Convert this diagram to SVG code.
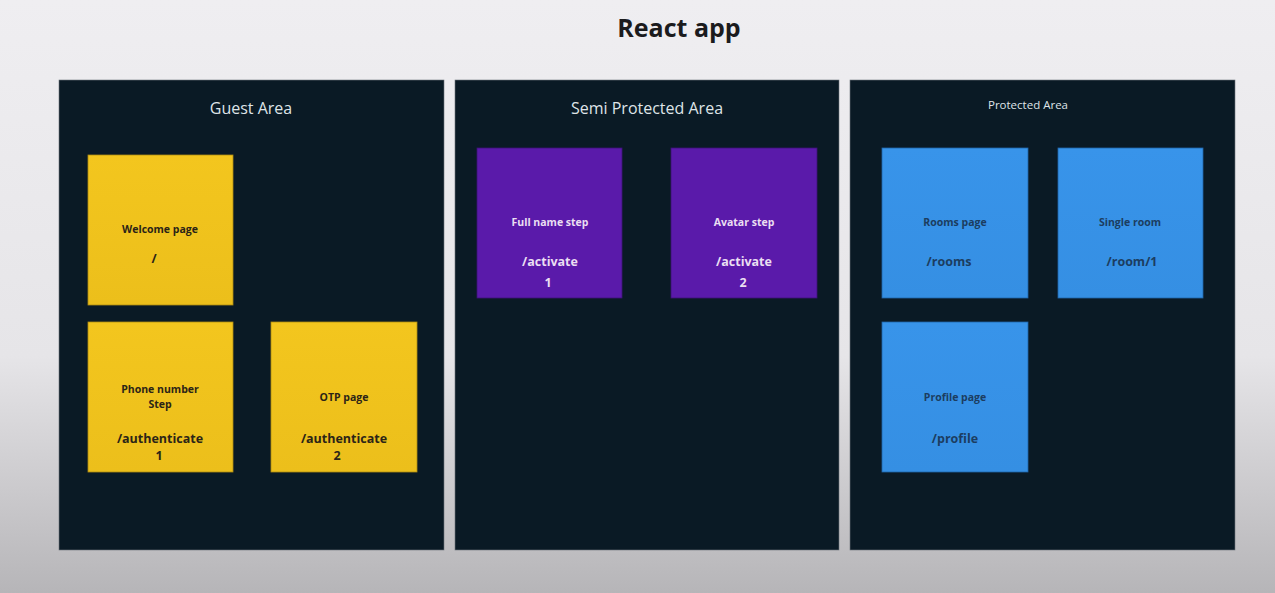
<svg xmlns="http://www.w3.org/2000/svg" width="1275" height="593" viewBox="0 0 1275 593">
  <defs>
    <linearGradient id="bg" x1="0" y1="0" x2="0" y2="1">
      <stop offset="0" stop-color="#efeef1"/>
      <stop offset="0.6" stop-color="#e6e5e8"/>
      <stop offset="1" stop-color="#b6b5b8"/>
    </linearGradient>
    <linearGradient id="yellow" x1="0" y1="0" x2="0" y2="1">
      <stop offset="0" stop-color="#f3c61e"/>
      <stop offset="1" stop-color="#ecbf1b"/>
    </linearGradient>
    <linearGradient id="blue" x1="0" y1="0" x2="0" y2="1">
      <stop offset="0" stop-color="#3894ea"/>
      <stop offset="1" stop-color="#358fe3"/>
    </linearGradient>
    <style>
      .panel { fill: #0a1a25; stroke: #6f767c; stroke-width: 0.6; }
      .ptitle { font-family: "Open Sans", "Noto Sans", sans-serif; fill: #dfe4e8; text-anchor: middle; }
      .card-y { fill: url(#yellow); stroke: #b08c10; stroke-width: 0.8; }
      .card-p { fill: #5a1aaa; stroke: #3d1276; stroke-width: 0.8; }
      .card-b { fill: url(#blue); stroke: #2064a8; stroke-width: 0.8; }
      .t { font-family: "Open Sans", "Noto Sans", sans-serif; font-weight: 700; text-anchor: middle; }
      .ty { fill: #2b2417; }
      .tp { fill: #eadff2; }
      .tb { fill: #1c3d60; }
      .s { font-size: 10.5px; }
      .m { font-size: 12.5px; }
    </style>
  </defs>

  <rect width="1275" height="593" fill="url(#bg)"/>

  <text x="679" y="37" font-family="'Open Sans', 'Noto Sans', sans-serif" font-weight="700" font-size="25" fill="#1b1b1d" text-anchor="middle">React app</text>

  <!-- Guest area -->
  <g id="guest-area">
    <rect class="panel" x="59" y="80" width="385" height="470"/>
    <text class="ptitle" x="251" y="114" font-size="16">Guest Area</text>
  </g>
  <g id="welcome-page">
    <rect class="card-y" x="88" y="155" width="145" height="150"/>
    <text class="t ty s" x="160" y="233">Welcome page</text>
    <text class="t ty m" x="154" y="263">/</text>
  </g>
  <g id="phone-step">
    <rect class="card-y" x="88" y="322" width="145" height="150"/>
    <text class="t ty s" x="160" y="393">Phone number</text>
    <text class="t ty s" x="160" y="408">Step</text>
    <text class="t ty m" x="160" y="443">/authenticate</text>
    <text class="t ty m" x="159" y="460">1</text>
  </g>
  <g id="otp-page">
    <rect class="card-y" x="271" y="322" width="146" height="150"/>
    <text class="t ty s" x="344" y="401">OTP page</text>
    <text class="t ty m" x="344" y="443">/authenticate</text>
    <text class="t ty m" x="337" y="460">2</text>
  </g>

  <!-- Semi protected area -->
  <g id="semi-protected-area">
    <rect class="panel" x="455" y="80" width="384" height="470"/>
    <text class="ptitle" x="647" y="114" font-size="16">Semi Protected Area</text>
  </g>
  <g id="full-name-step">
    <rect class="card-p" x="477" y="148" width="145" height="150"/>
    <text class="t tp s" x="550" y="226">Full name step</text>
    <text class="t tp m" x="550" y="266">/activate</text>
    <text class="t tp m" x="548" y="287">1</text>
  </g>
  <g id="avatar-step">
    <rect class="card-p" x="671" y="148" width="146" height="150"/>
    <text class="t tp s" x="744" y="226">Avatar step</text>
    <text class="t tp m" x="744" y="266">/activate</text>
    <text class="t tp m" x="743" y="287">2</text>
  </g>

  <!-- Protected area -->
  <g id="protected-area">
    <rect class="panel" x="850" y="80" width="385" height="470"/>
    <text class="ptitle" x="1028" y="109" font-size="11.5">Protected Area</text>
  </g>
  <g id="rooms-page">
    <rect class="card-b" x="882" y="148" width="146" height="150"/>
    <text class="t tb s" x="955" y="226">Rooms page</text>
    <text class="t tb m" x="949" y="266">/rooms</text>
  </g>
  <g id="single-room">
    <rect class="card-b" x="1058" y="148" width="145" height="150"/>
    <text class="t tb s" x="1130" y="226">Single room</text>
    <text class="t tb m" x="1132" y="266">/room/1</text>
  </g>
  <g id="profile-page">
    <rect class="card-b" x="882" y="322" width="146" height="150"/>
    <text class="t tb s" x="955" y="401">Profile page</text>
    <text class="t tb m" x="955" y="443">/profile</text>
  </g>

  <g id="connectors"/>
</svg>
